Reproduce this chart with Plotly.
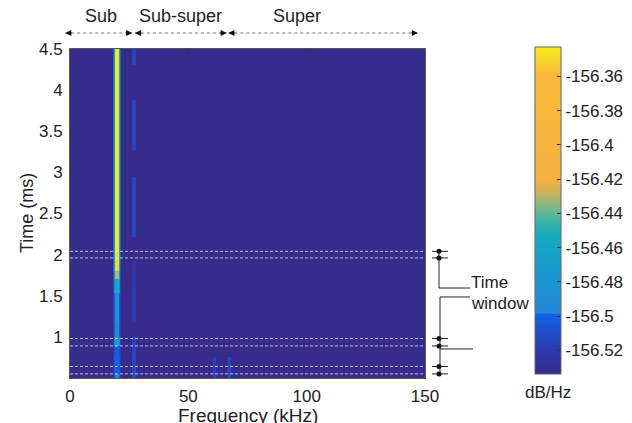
import plotly.graph_objects as go

# ---------------- data ----------------
# frequency bin edges (kHz): background | main line (outer, inner, core, inner, outer) | bg | 27 kHz line | bg | 61 kHz blob | bg | 67 kHz blob | bg
freq_edges = [0, 18.1, 18.7, 19.2, 20.6, 21.1, 21.7, 26.3, 27.8, 60.6, 61.6, 66.6, 68.2, 150]
# time bin edges (ms)
time_edges = [0.5, 0.55, 0.64, 0.75, 0.89, 1.0, 1.17, 1.53, 1.70, 1.80, 1.94, 2.21, 2.94, 3.27, 3.88, 4.31, 4.5]

BG = -156.533
core_level = [-156.495, -156.50, -156.50, -156.50, -156.47, -156.49, -156.486, -156.455, -156.43, -156.35, -156.345, -156.345, -156.345, -156.345, -156.345, -156.345]
inner_level = [-156.505, -156.505, -156.505, -156.51, -156.497, -156.505, -156.50, -156.49, -156.465, -156.455, -156.455, -156.455, -156.455, -156.455, -156.455, -156.455]
outer_level = [-156.518, -156.518, -156.518, -156.52, -156.515, -156.52, -156.518, -156.515, -156.51, -156.505, -156.50, -156.50, -156.50, -156.50, -156.50, -156.50]
harm_level = [-156.512, -156.51, -156.512, -156.515, -156.515, BG, -156.518, -156.52, -156.522, -156.525, BG, -156.515, BG, -156.515, BG, -156.515]
blob61_level = [-156.515, -156.515, -156.518, BG, BG, BG, BG, BG, BG, BG, BG, BG, BG, BG, BG, BG]
blob67_level = [-156.51, -156.51, -156.512, BG, BG, BG, BG, BG, BG, BG, BG, BG, BG, BG, BG, BG]

z_min, z_max = -156.5335, -156.3425
cbar_ticks = [-156.52, -156.50, -156.48, -156.46, -156.44, -156.42, -156.40, -156.38, -156.36]
cbar_labels = ["-156.52", "-156.5", "-156.48", "-156.46", "-156.44", "-156.42", "-156.4", "-156.38", "-156.36"]

x_ticks = [0, 50, 100, 150]
y_ticks = [1, 1.5, 2, 2.5, 3, 3.5, 4, 4.5]
y_tick_text = ["1", "1.5", "2", "2.5", "3", "3.5", "4", "4.5"]

# time windows (ms)
windows = [(1.96, 2.04), (0.89, 0.98), (0.55, 0.64)]

# frequency regions shown at the top (kHz): label, start, end, label centre
regions = [("Sub", -2, 26.3, 13), ("Sub-super", 27.4, 66.2, 46.5), ("Super", 66.9, 147, 96)]

# ---------------- build matrix ----------------
z = []
for i in range(len(time_edges) - 1):
    z.append([BG, outer_level[i], inner_level[i], core_level[i], inner_level[i], outer_level[i],
              BG, harm_level[i], BG, blob61_level[i], BG, blob67_level[i], BG])

colorscale = [
    [0.0, "#372b8a"],
    [0.06, "#2f36a8"],
    [0.182, "#1063e6"],
    [0.186, "#2486d6"],
    [0.30, "#1898cf"],
    [0.42, "#13aac0"],
    [0.47, "#3cb4a6"],
    [0.51, "#7db889"],
    [0.55, "#c2b363"],
    [0.59, "#f6b23e"],
    [0.92, "#fbb93a"],
    [0.96, "#f6d52a"],
    [1.0, "#f7ec1b"],
]

FONT = "Liberation Sans, Arial, sans-serif"

def px(p):
    return (p - 70) / 355.0

def py(p):
    return (378 - p) / 329.0

fig = go.Figure()
fig.add_trace(go.Heatmap(
    x=freq_edges, y=time_edges, z=z,
    zmin=z_min, zmax=z_max, colorscale=colorscale,
    colorbar=dict(
        x=px(535), xanchor="left", xpad=0,
        y=py(210), yanchor="middle", ypad=0,
        len=327 / 329, lenmode="fraction", thickness=26,
        outlinewidth=1, outlinecolor="#666",
        tickvals=cbar_ticks, ticktext=cbar_labels,
        ticks="inside", ticklen=4, tickcolor="#333",
        tickfont=dict(size=17, family=FONT, color="#222"),
    ),
    hoverinfo="skip",
))

shapes = []
annotations = []

# dashed window lines across the plot
for (a, b) in windows:
    for t in (a, b):
        shapes.append(dict(type="line", xref="x", yref="y", x0=0, x1=150, y0=t, y1=t,
                           line=dict(color="rgba(235,235,255,0.75)", width=1, dash="3px,2px"), layer="above"))

# right-side bracket marks
for (a, b) in windows:
    for t in (a, b):
        shapes.append(dict(type="line", xref="paper", yref="y", x0=px(432), x1=px(448), y0=t, y1=t,
                           line=dict(color="#222", width=1)))
        shapes.append(dict(type="circle", xref="paper", yref="y", xsizemode="pixel", ysizemode="pixel",
                           xanchor=px(439), yanchor=t, x0=-2.5, x1=2.5, y0=-2.5, y1=2.5,
                           fillcolor="#111", line=dict(color="#111", width=0)))

# leader lines
leader_time, leader_window, leader_third = 1.594, 1.485, 0.853
shapes += [
    dict(type="line", xref="paper", yref="y", x0=px(439), x1=px(439), y0=windows[0][1], y1=leader_time, line=dict(color="#222", width=1)),
    dict(type="line", xref="paper", yref="y", x0=px(439), x1=px(470), y0=leader_time, y1=leader_time, line=dict(color="#222", width=1)),
    dict(type="line", xref="paper", yref="y", x0=px(440), x1=px(470), y0=leader_window, y1=leader_window, line=dict(color="#222", width=1)),
    dict(type="line", xref="paper", yref="y", x0=px(440), x1=px(440), y0=leader_window, y1=windows[2][0], line=dict(color="#222", width=1)),
    dict(type="line", xref="paper", yref="y", x0=px(440), x1=px(473), y0=leader_third, y1=leader_third, line=dict(color="#222", width=1)),
]

annotations += [
    dict(text="Time", xref="paper", yref="y", x=px(469), y=1.66, xanchor="left", yanchor="middle",
         showarrow=False, font=dict(size=17, family=FONT, color="#222")),
    dict(text="window", xref="paper", yref="y", x=px(469), y=1.41, xanchor="left", yanchor="middle",
         showarrow=False, font=dict(size=17, family=FONT, color="#222")),
]

# top region arrows and labels
arrow_y = py(33)
label_y = py(16)
for (name, a, b, c) in regions:
    shapes.append(dict(type="line", xref="paper", yref="paper", x0=a / 150, x1=b / 150, y0=arrow_y, y1=arrow_y,
                       line=dict(color="#777", width=1, dash="dot")))
    annotations.append(dict(text="", xref="paper", yref="paper", x=a / 150, y=arrow_y, ax=8, ay=0,
                            showarrow=True, arrowhead=2, arrowsize=1, arrowwidth=1.2, arrowcolor="#111"))
    annotations.append(dict(text="", xref="paper", yref="paper", x=b / 150, y=arrow_y, ax=-8, ay=0,
                            showarrow=True, arrowhead=2, arrowsize=1, arrowwidth=1.2, arrowcolor="#111"))
    annotations.append(dict(text=name, xref="paper", yref="paper", x=c / 150, y=label_y,
                            xanchor="center", yanchor="middle", showarrow=False,
                            font=dict(size=18, family=FONT, color="#222")))

# axis titles and colorbar unit
annotations += [
    dict(text="Frequency (kHz)", xref="paper", yref="paper", x=0.5, y=py(415),
         xanchor="center", yanchor="middle", showarrow=False, font=dict(size=19, family=FONT, color="#222")),
    dict(text="Time (ms)", xref="paper", yref="paper", x=px(27), y=py(213),
         xanchor="center", yanchor="middle", textangle=-90, showarrow=False,
         font=dict(size=18, family=FONT, color="#222")),
    dict(text="dB/Hz", xref="paper", yref="paper", x=px(548), y=py(392),
         xanchor="center", yanchor="middle", showarrow=False, font=dict(size=17, family=FONT, color="#222")),
]

fig.update_layout(
    width=632, height=423,
    margin=dict(l=70, r=207, t=49, b=45, autoexpand=False),
    paper_bgcolor="white", plot_bgcolor="white",
    font=dict(family=FONT, size=17, color="#222"),
    shapes=shapes, annotations=annotations,
    xaxis=dict(range=[0, 150], tickvals=x_ticks, ticks="inside", ticklen=3, tickcolor="#333",
               showline=True, linecolor="#555", mirror="ticks", showgrid=False, zeroline=False,
               tickfont=dict(size=17), ticklabelstandoff=3, automargin=False),
    yaxis=dict(range=[0.5, 4.5], tickvals=y_ticks, ticktext=y_tick_text, ticks="inside", ticklen=3,
               tickcolor="#333", showline=True, linecolor="#555", mirror="ticks", showgrid=False,
               zeroline=False, tickfont=dict(size=17), ticklabelstandoff=3, automargin=False),
    showlegend=False,
)

fig.write_html("out.html", config={"displayModeBar": False},
               post_script="document.body.style.margin='0';document.body.style.overflow='hidden';")
